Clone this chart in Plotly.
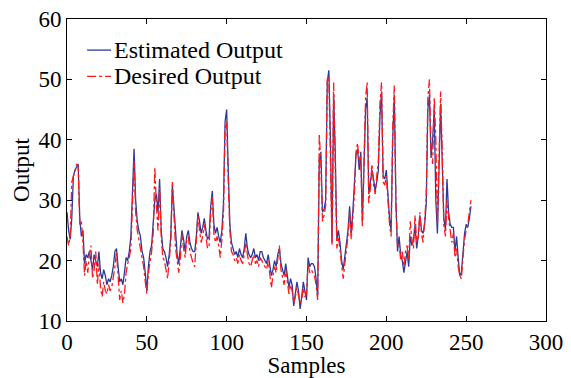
import plotly.graph_objects as go

estimated = [28, 25, 23.5, 27, 34, 35, 35.5, 36, 27, 24, 25, 19.5, 21, 20.5, 21.5, 20, 18.5, 21, 20, 19,
             21.5, 18, 17, 18.5, 17.5, 16, 17, 16.5, 17.5, 19, 21.5, 22, 19, 16.5, 17, 16, 18, 20.5, 20, 21.5,
             24, 30, 38.5, 30, 26.5, 25, 24, 21.5, 20.5, 18, 15, 19, 21.5, 22.5, 26, 30, 31, 28, 33.5, 25,
             22, 21.5, 20.5, 19, 21, 24, 32.5, 29, 24, 21, 19.5, 22, 25, 23.5, 21.5, 24, 25, 23, 22, 21.5,
             21.5, 24, 28, 26.5, 24.5, 25.5, 27, 25, 23.5, 24, 29, 31.5, 26, 24.5, 25.5, 24, 23, 25, 29.5, 43,
             45, 35, 26, 23, 22, 21, 21.5, 20.5, 22, 21, 20.5, 22, 24.5, 22, 21, 20.5, 21, 22, 20.5, 21,
             20, 21.5, 21.5, 20.5, 20, 19.5, 21, 19, 17.5, 18.5, 20, 19, 21, 22, 19.5, 18.5, 17.5, 19.5, 17, 15.5,
             17, 16, 12.5, 15, 16.5, 15, 12, 14, 16.5, 15, 13.5, 20.5, 19, 19.5, 19.5, 19, 17, 14, 36.5, 38,
             28, 28.5, 30, 49.5, 51.5, 40, 23, 47.5, 38, 23.5, 25, 23, 20, 18.5, 20.5, 22.5, 25, 29, 24.5, 28,
             32, 37.5, 38.5, 35, 38, 26.5, 35.5, 45, 47, 31, 33, 35, 33.5, 31.5, 33, 35, 44, 48, 34, 33.5,
             35, 30.5, 27, 25, 40, 47.5, 30, 21.5, 24, 21, 20, 18, 20, 21.5, 19, 24, 22.5, 23.5, 26, 22,
             24, 27.5, 25, 24.5, 26, 29.5, 45, 47.5, 37, 40, 45, 30, 24.5, 35, 46, 36.5, 27, 25, 33.5, 28,
             26, 25.5, 25.5, 21.5, 24, 20.5, 17.5, 18, 22, 24.5, 26, 25.5, 27, 29]

desired = [24, 22.5, 24, 33, 34, 34.5, 36, 35.5, 26, 26.5, 23, 17.5, 20, 18, 21, 22.5, 17, 18.5, 21.5, 16,
           19.5, 15.5, 14, 16.5, 15, 14.5, 16, 15, 15.5, 17, 19, 21.5, 16.5, 13.5, 15, 13, 14.5, 18, 19.5, 20.5,
           22, 31, 36.5, 28, 25, 23.5, 22, 20, 19, 16.5, 14.5, 18, 20, 21.5, 24.5, 35.5, 29, 25, 32, 24,
           20.5, 20, 18.5, 17, 20, 23, 33, 27, 22, 20, 18, 20.5, 24.5, 22, 20.5, 23.5, 24, 21.5, 20.5, 19.5,
           19, 23, 27.5, 25, 23, 24, 26, 24, 22, 22.5, 28, 30.5, 24.5, 23, 24, 22.5, 20.5, 23.5, 28, 42,
           43, 33, 25, 21.5, 21, 20, 20.5, 19.5, 21, 20, 19.5, 21, 23, 21, 19.5, 19, 20, 21, 19.5, 20,
           19, 20.5, 20, 19.5, 19, 18.5, 20, 17.5, 15.5, 17.5, 19, 18, 20.5, 22.5, 18.5, 17, 16, 18.5, 16, 14.5,
           16, 15, 13, 14, 15.5, 14, 13, 13.5, 15.5, 14, 14.5, 19.5, 18, 18.5, 18, 17.5, 16, 13.5, 41, 36,
           26.5, 27.5, 29, 50, 50.5, 38, 22.5, 49.5, 36, 22, 24, 21.5, 19, 17, 19.5, 21.5, 24, 28, 23.5, 27,
           31, 38, 39.5, 36, 37.5, 25.5, 36, 47, 49.5, 29.5, 32, 36, 32.5, 31, 34, 36.5, 46, 49.5, 33, 32.5,
           34, 29.5, 26, 24, 42, 49, 29, 22.5, 23, 20, 21.5, 19, 21.5, 22.5, 20, 26.5, 23.5, 22, 27.5, 23,
           24, 28, 24.5, 23, 27, 30.5, 47, 50, 38, 36, 47, 40, 26, 37, 48, 38, 26, 24, 30, 27,
           25, 23, 24.5, 20.5, 22, 19, 17.5, 17, 20.5, 23.5, 25, 26, 28, 30]

samples = list(range(len(estimated)))
x_ticks = [0, 50, 100, 150, 200, 250, 300]
y_ticks = [10, 20, 30, 40, 50, 60]
series_names = ["Estimated Output", "Desired Output"]
series_colors = ["#2b3a9a", "#ff1a1a"]
series_dash = ["solid", "dashdot"]

fig = go.Figure()
for vals, name, color, dash in zip([estimated, desired], series_names, series_colors, series_dash):
    fig.add_trace(go.Scatter(x=samples, y=vals, mode="lines", name=name, showlegend=False,
                             line=dict(color=color, width=1.3, dash=dash)))

font = "Liberation Serif, Times New Roman, serif"
fs = 23

# legend drawn in paper coordinates
legend_rows_y = [0.897, 0.81]
for name, color, dash, ly in zip(series_names, series_colors, series_dash, legend_rows_y):
    fig.add_shape(type="line", xref="paper", yref="paper", x0=0.042, x1=0.092, y0=ly, y1=ly,
                  line=dict(color=color, width=1.3, dash=dash))
    fig.add_annotation(xref="paper", yref="paper", x=0.094, y=ly, text=name, showarrow=False,
                       xanchor="left", yanchor="middle", font=dict(family=font, size=24, color="black"))

axis_common = dict(showgrid=False, zeroline=False, showline=True, linecolor="black", linewidth=1,
                   mirror="ticks", ticks="inside", ticklen=5, tickcolor="black", automargin=False,
                   tickfont=dict(family=font, size=fs, color="black"))
fig.update_layout(
    width=571, height=378,
    margin=dict(l=67, r=25, t=19, b=57),
    plot_bgcolor="white", paper_bgcolor="white",
    font=dict(family=font, size=fs, color="black"),
    xaxis=dict(range=[0, 300], tickvals=x_ticks, title=dict(text="Samples", standoff=0,
               font=dict(family=font, size=fs)), **axis_common),
    yaxis=dict(range=[10, 60], tickvals=y_ticks, title=dict(text="Output", standoff=2,
               font=dict(family=font, size=fs)), **axis_common),
    showlegend=False,
)
fig.write_html("out.html")
